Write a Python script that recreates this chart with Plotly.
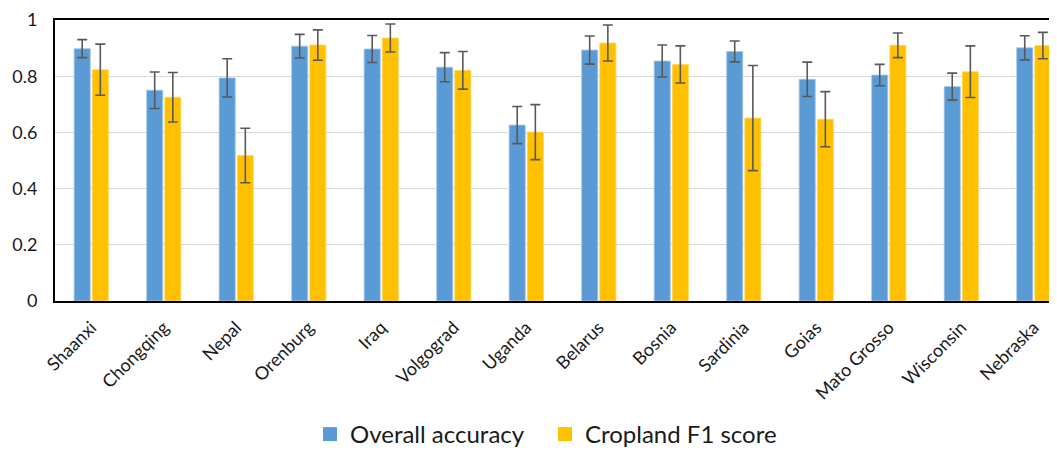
import plotly.graph_objects as go

regions = ["Shaanxi", "Chongqing", "Nepal", "Orenburg", "Iraq", "Volgograd", "Uganda",
           "Belarus", "Bosnia", "Sardinia", "Goias", "Mato Grosso", "Wisconsin", "Nebraska"]

overall_accuracy = [0.898, 0.750, 0.794, 0.907, 0.897, 0.832, 0.626,
                    0.893, 0.854, 0.888, 0.789, 0.804, 0.763, 0.901]
overall_accuracy_err = [0.032, 0.065, 0.068, 0.042, 0.048, 0.052, 0.066,
                        0.050, 0.057, 0.037, 0.061, 0.038, 0.048, 0.043]

cropland_f1 = [0.823, 0.725, 0.518, 0.911, 0.936, 0.821, 0.601,
               0.918, 0.842, 0.651, 0.647, 0.910, 0.816, 0.909]
cropland_f1_err = [0.091, 0.088, 0.097, 0.054, 0.050, 0.067, 0.098,
                   0.064, 0.066, 0.187, 0.098, 0.044, 0.092, 0.047]

y_ticks = [0, 0.2, 0.4, 0.6, 0.8, 1]
y_tick_labels = ["0", "0.2", "0.4", "0.6", "0.8", "1"]

FONT = "Lato"
ERR_COLOR = "#595959"
BLUE = "#5B9BD5"
GOLD = "#FFC000"

fig = go.Figure()
fig.add_trace(go.Bar(
    x=regions, y=overall_accuracy, name="Overall accuracy", showlegend=False,
    marker=dict(color=BLUE, line=dict(color="#A9C8E8", width=0.8)),
    error_y=dict(type="data", array=overall_accuracy_err, color=ERR_COLOR,
                 thickness=1.6, width=5),
))
fig.add_trace(go.Bar(
    x=regions, y=cropland_f1, name="Cropland F1 score", showlegend=False,
    marker=dict(color=GOLD, line=dict(color="#FFD966", width=0.8)),
    error_y=dict(type="data", array=cropland_f1_err, color=ERR_COLOR,
                 thickness=1.6, width=5),
))
# legend entries with larger square swatches
for nm, col in [("Overall accuracy", BLUE), ("Cropland F1 score", GOLD)]:
    fig.add_trace(go.Scatter(
        x=[None], y=[None], mode="markers", name=nm,
        marker=dict(symbol="square", size=14, color=col),
        hoverinfo="skip",
    ))

fig.update_layout(
    width=1049, height=443,
    template="none",
    barmode="group", bargap=0.5, bargroupgap=0.11,
    margin=dict(l=47, r=0, t=12, b=150, autoexpand=False),
    paper_bgcolor="white", plot_bgcolor="white",
    font=dict(family=FONT, color="#1a1a1a"),
    showlegend=True,
    legend=dict(orientation="h", x=0.2545, xanchor="left", y=-0.395, yanchor="top",
                font=dict(family=FONT, size=24, color="#1a1a1a"),
                itemsizing="trace", traceorder="normal", entrywidth=190,
                bgcolor="rgba(0,0,0,0)"),
    xaxis=dict(
        type="category", range=[-0.5, 13.32], autorange=False,
        showline=True, linecolor="black", linewidth=2, mirror=True,
        showgrid=False, zeroline=False,
        ticks="outside", ticklen=7, tickcolor="rgba(0,0,0,0)",
        tickangle=-45, tickfont=dict(family=FONT, size=18, color="#1a1a1a"),
        automargin=False,
    ),
    yaxis=dict(
        range=[0, 1], autorange=False,
        tickvals=y_ticks, ticktext=y_tick_labels,
        showline=True, linecolor="black", linewidth=2, mirror=False,
        showgrid=True, gridcolor="#D9D9D9", gridwidth=1.3,
        zeroline=False,
        ticks="outside", ticklen=12, tickcolor="rgba(0,0,0,0)",
        tickfont=dict(family=FONT, size=18, color="#1a1a1a"),
        automargin=False,
    ),
)

fig.write_html("out.html")
